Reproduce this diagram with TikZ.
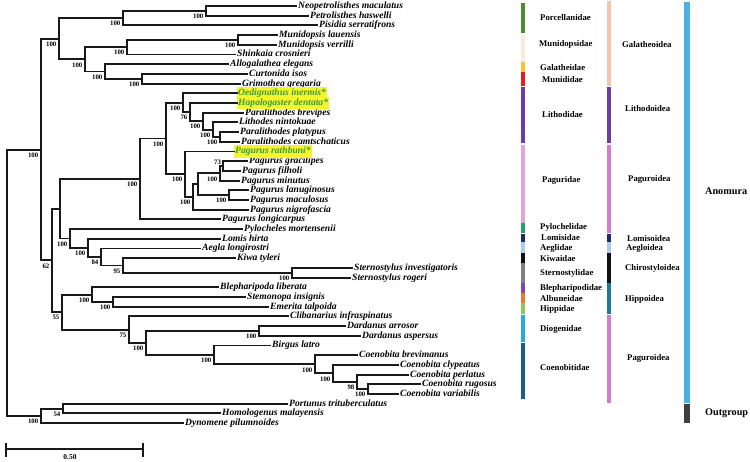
\documentclass[tikz,border=0pt]{standalone}
\usepackage{fontspec}
\setmainfont{Liberation Serif}
\usetikzlibrary{calc}
\definecolor{hlyellow}{HTML}{F5F52A}
\definecolor{hlgreen}{HTML}{3E9B3E}
\definecolor{cporc}{HTML}{4F8B35}
\definecolor{cmunidop}{HTML}{FCEAE2}
\definecolor{cgalath}{HTML}{F7C331}
\definecolor{cmunid}{HTML}{E31E24}
\definecolor{clith}{HTML}{6B3FA0}
\definecolor{cpagur}{HTML}{E3A3DF}
\definecolor{cpyloch}{HTML}{22A36A}
\definecolor{clomis}{HTML}{1A2C6E}
\definecolor{caegl}{HTML}{ADCBEA}
\definecolor{ckiwa}{HTML}{111111}
\definecolor{cstern}{HTML}{808080}
\definecolor{cbleph}{HTML}{7B4AA5}
\definecolor{calbun}{HTML}{E47C35}
\definecolor{chipp}{HTML}{8DC862}
\definecolor{cdiog}{HTML}{28AAE1}
\definecolor{ccoen}{HTML}{1F5E80}
\definecolor{cgalsup}{HTML}{F5C6AE}
\definecolor{cpagsup}{HTML}{D27CD2}
\definecolor{chipsup}{HTML}{1F7B9B}
\definecolor{canom}{HTML}{4AB2E3}
\definecolor{cout}{HTML}{404040}
\tikzset{
  br/.style={line width=1.9pt, line cap=rect, draw=black!90},
  tip/.style={anchor=west, inner xsep=2pt, inner ysep=1.8pt, text height=0.68em, text depth=0.2em,
    font=\fontsize{9.6}{10}\selectfont\bfseries\itshape},
  hl/.style={tip, fill=hlyellow, text=hlgreen, inner xsep=1pt},
  supp/.style={anchor=north east, inner sep=0pt, font=\fontsize{6.8}{7}\selectfont\bfseries},
  fam/.style={anchor=west, inner sep=0pt, font=\fontsize{8.7}{9}\selectfont\bfseries},
  bigl/.style={anchor=west, inner sep=0pt, font=\fontsize{10.2}{11}\selectfont\bfseries},
}
\begin{document}
\begin{tikzpicture}[x=1pt,y=-1pt]
\useasboundingbox (0,0) rectangle (750,461);
% tips
\foreach \n/\x/\y/\t in {
 t1/296/6.0/Neopetrolisthes maculatus,
 t2/308/15.7/Petrolisthes haswelli,
 t3/317/25.4/Pisidia serratifrons,
 t4/277/35.1/Munidopsis lauensis,
 t5/276/44.8/Munidopsis verrilli,
 t6/235/54.5/Shinkaia crosnieri,
 t7/228/64.2/Allogalathea elegans,
 t8/247/73.9/Curtonida isos,
 t9/240/83.6/Grimothea gregaria,
 t12/243/112.7/Paralithodes brevipes,
 t13/237/122.4/Lithodes nintokuae,
 t14/238/132.1/Paralithodes platypus,
 t15/239/141.8/Paralithodes camtschaticus,
 t17/247/161.2/Pagurus gracilipes,
 t18/240/170.9/Pagurus filholi,
 t19/239/180.6/Pagurus minutus,
 t20/248/190.3/Pagurus lanuginosus,
 t21/248/200.0/Pagurus maculosus,
 t22/248/209.7/Pagurus nigrofascia,
 t23/220/219.4/Pagurus longicarpus,
 t24/242/229.1/Pylocheles mortensenii,
 t25/220/238.8/Lomis hirta,
 t26/200/248.5/Aegla longirostri,
 t27/235/258.2/Kiwa tyleri,
 t28/352/267.9/Sternostylus investigatoris,
 t29/350/277.6/Sternostylus rogeri,
 t30/218/287.3/Blepharipoda liberata,
 t31/245/297.0/Stemonopa insignis,
 t32/268/306.7/Emerita talpoida,
 t33/288/316.4/Clibanarius infraspinatus,
 t34/345/326.1/Dardanus arrosor,
 t35/360/335.8/Dardanus aspersus,
 t36/270/345.5/Birgus latro,
 t37/357/355.2/Coenobita brevimanus,
 t38/398/364.9/Coenobita clypeatus,
 t39/408/374.6/Coenobita perlatus,
 t40/420/384.3/Coenobita rugosus,
 t41/398/394.0/Coenobita variabilis,
 t42/287/403.7/Portunus trituberculatus,
 t43/220/413.4/Homologenus malayensis,
 t44/183/423.1/Dynomene pilumnoides}
 \node[tip] (\n) at (\x,\y) {\t};
\node[hl] (t10) at (237,93.3) {Oedignathus inermis*};
\node[hl] (t11) at (237,103.0) {Hapalogaster dentata*};
\node[hl] (t16) at (234,151.5) {Pagurus rathbuni*};
% internal nodes
\foreach \n/\x/\y in {A1/206/10.85, A2/123/18.1, A3/238/39.95, A4/127/47.2, A5/142/78.75,
 A6/105/71.5, A7/85/59.35, A8/59/38.7, L1/220/136.95, L2/213/129.7, L3/203/121.2,
 L4/190/112.1, L5/183/102.7, P5/223/166.05, P4/220/173.3, P6/229/195.15, P3/198/184.2,
 P2/193/197, P1/185/174.2, LP/166/138.5, LPa/140/179, S1/292/272.75, K1/123/265.5,
 K2/101/257, K3/88/247.9, K4/70/238.5, N60/60/208.75, H1/113/301.85, H2/92/294.6,
 D1/259/330.95, C1/368/389.15, C2/357/381.9, C3/333/373.4, C4/315/364.3, C5/214/354.9,
 D2/146/342.9, D3/129/329.65, N62/62/312.1, N52/52/260.4, AN/41/149.55, O1/63/408.55,
 O2/41/415.8, R/7/282.7}
 \coordinate (\n) at (\x,\y);
% branches to tips
\foreach \p/\c in {A1/t1, A1/t2, A2/t3, A3/t4, A3/t5, A4/t6, A6/t7, A5/t8, A5/t9,
 L5/t10, L4/t11, L3/t12, L2/t13, L1/t14, L1/t15, P1/t16, P5/t17, P5/t18, P4/t19,
 P6/t20, P6/t21, P2/t22, LPa/t23, K4/t24, K3/t25, K2/t26, K1/t27, S1/t28, S1/t29,
 H2/t30, H1/t31, H1/t32, D3/t33, D1/t34, D1/t35, C5/t36, C4/t37, C3/t38, C2/t39,
 C1/t40, C1/t41, O1/t42, O1/t43, O2/t44}
 \draw[br] (\p) |- (\c.west);
% branches between internal nodes
\foreach \p/\c in {A2/A1, A4/A3, A6/A5, A7/A4, A7/A6, A8/A2, A8/A7, L2/L1, L3/L2, L4/L3,
 L5/L4, P4/P5, P3/P4, P3/P6, P2/P3, P1/P2, LP/L5, LP/P1, LPa/LP, K1/S1, K2/K1, K3/K2,
 K4/K3, N60/LPa, N60/K4, H2/H1, C2/C1, C3/C2, C4/C3, C5/C4, D2/D1, D2/C5, D3/D2,
 N62/H2, N62/D3, N52/N60, N52/N62, AN/A8, AN/N52, O2/O1, R/AN, R/O2}
 \draw[br] (\p) |- (\c);
% support values
\foreach \n/\v in {A1/100, A2/100, A3/100, A4/100, A5/100, A6/100, A7/100, A8/100,
 L1/100, L2/100, L3/100, L4/76, L5/100, P4/100, P6/100, P2/100, P1/100, LP/100, LPa/100,
 S1/100, K1/95, K2/84, K3/100, K4/100, H1/100, H2/100, D1/100, C1/100, C2/98, C3/100,
 C4/100, C5/100, D2/100, D3/75, N62/55, N52/62, AN/100, O1/54, O2/100}
 \node[supp] (s\n) at ([shift={(-2.5,3)}]\n) {\v};
\node[supp, anchor=south east] (sP5) at ([shift={(-1.8,-1.2)}]P5) {73};
% scale bar
\coordinate (sbL) at (6,449.3);
\coordinate (sbR) at (143,449.3);
\draw[br, line cap=butt] (sbL) -- (sbR);
\draw[br, line cap=butt] (sbL) ++(0,-6) -- ++(0,13.5);
\draw[br, line cap=butt] (sbR) ++(0,-6) -- ++(0,13.5);
\node[supp, anchor=center, font=\fontsize{7.5}{8}\selectfont\bfseries] (sbt) at (70,457) {0.50};
% family colour bars
\foreach \c/\a/\b in {cporc/2.7/33.3, cmunidop/35/62, cgalath/62/72, cmunid/72/86,
 clith/87/143, cpagur/145/223, cpyloch/223/233, clomis/234/242, caegl/242/253,
 ckiwa/253/263, cstern/263/283, cbleph/283/293, calbun/293/303, chipp/303/314,
 cdiog/315/342, ccoen/343/399}
 \fill[\c] (521.3,\a) rectangle (524.9,\b);
\foreach \c/\a/\b in {cgalsup/1/86, clith/87/143, cpagsup/145/233, clomis/234/242,
 caegl/242/253, ckiwa/253/283, chipsup/283/314, cpagsup/315/403}
 \fill[\c] (607.3,\a) rectangle (610.9,\b);
\fill[canom] (684.2,2) rectangle (690,403);
\fill[cout] (684.2,404) rectangle (690,423);
% family labels
\foreach \n/\x/\y/\t in {f1/540/18/Porcellanidae, f2/539/44/Munidopsidae, f3/540/68/Galatheidae,
 f4/542/80/Munididae, f5/542/115/Lithodidae, f6/542/180/Paguridae, f7/540/227/Pylochelidae,
 f8/541/238/Lomisidae, f9/540/248/Aeglidae, f10/540/259/Kiwaidae, f11/540/273/Sternostylidae,
 f12/540/288/Blepharipodidae, f13/540/299/Albuneidae, f14/540/309/Hippidae,
 f15/540/329/Diogenidae, f16/540/368/Coenobitidae,
 g1/622/45/Galatheoidea, g2/625/109/Lithodoidea, g3/628/179/Paguroidea,
 g4/627/239/Lomisoidea, g5/626/248/Aegloidea, g6/625/268/Chirostyloidea,
 g7/625/299/Hippoidea, g8/627/358/Paguroidea}
 \node[fam] (\n) at (\x,\y) {\t};
\node[bigl] (anomura) at (705,191) {Anomura};
\node[bigl] (outgroup) at (705,413) {Outgroup};
\end{tikzpicture}
\end{document}
